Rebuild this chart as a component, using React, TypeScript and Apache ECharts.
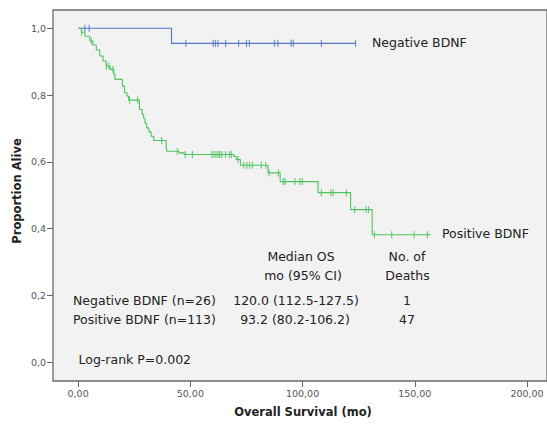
import React, { useEffect, useRef } from 'react';
import * as echarts from 'echarts';

// Axis ticks
const xTicks = [0, 50, 100, 150, 200];
const yTicks = [0, 0.2, 0.4, 0.6, 0.8, 1.0];

// Negative BDNF (blue): step drop times and survival after the drop
const negTimes = [0, 41.6];
const negSurv = [1.0, 0.955];
const negEnd = 123.6;
const negCensor = [3.0, 4.9, 48.0, 60.2, 61.2, 62.3, 65.7, 71.5, 75.0, 76.3, 87.5, 89.0, 94.9, 95.9, 108.4, 123.6];

// Positive BDNF (green)
const posTimes = [0, 1.5, 3.0, 5.2, 6.6, 8.1, 9.6, 11.1, 12.5, 14.2, 15.9, 16.4, 19.7, 20.7, 21.8, 22.5, 27.3, 28.5, 29.2, 29.8, 30.5, 31.5, 32.5, 33.7, 39.2, 39.5, 45.0, 47.2, 69.3, 70.4, 72.3, 84.6, 90.0, 106.9, 121.4, 131.0];
const posSurv = [1.0, 0.988, 0.976, 0.962, 0.95, 0.935, 0.917, 0.902, 0.887, 0.877, 0.862, 0.847, 0.827, 0.807, 0.797, 0.785, 0.757, 0.742, 0.73, 0.715, 0.702, 0.69, 0.677, 0.664, 0.647, 0.632, 0.627, 0.622, 0.616, 0.607, 0.59, 0.567, 0.541, 0.508, 0.457, 0.382];
const posEnd = 157.1;
const posCensor = [1.5, 5.9, 12.6, 13.7, 15.5, 22.9, 26.5, 37.2, 44.2, 47.7, 50.9, 59.6, 60.5, 61.4, 62.3, 63.1, 64.0, 65.7, 67.4, 68.3, 71.2, 73.8, 75.2, 76.4, 77.7, 81.6, 83.6, 85.1, 89.2, 91.4, 92.2, 96.6, 98.8, 99.9, 108.4, 112.6, 113.6, 119.5, 123.2, 128.3, 129.4, 132.0, 139.7, 149.7, 155.6];

// Annotation table
const groupLabels = ['Negative BDNF', 'Positive BDNF'];
const rowLabels = ['Negative BDNF (n=26)', 'Positive BDNF (n=113)'];
const medianOS = ['120.0 (112.5-127.5)', '93.2 (80.2-106.2)'];
const deaths = ['1', '47'];
const headerMedian = ['Median OS', 'mo (95% CI)'];
const headerDeaths = ['No. of', 'Deaths'];
const logRank = 'Log-rank P=0.002';

const BLUE = '#5573c6';
const GREEN = '#4cc45f';
const FONT = '"DejaVu Sans", sans-serif';

function survAt(times: number[], surv: number[], t: number): number {
  let s = surv[0];
  for (let i = 0; i < times.length; i++) {
    if (times[i] <= t) s = surv[i];
  }
  return s;
}

function stepData(times: number[], surv: number[], end: number) {
  const d = times.map((t, i) => [t, surv[i]]);
  d.push([end, surv[surv.length - 1]]);
  return d;
}

export default function App() {
  const ref = useRef<HTMLDivElement>(null);
  useEffect(() => {
    if (!ref.current) return;
    const chart = echarts.init(ref.current, undefined, { renderer: 'svg' });
    const txt = (text: string, x: number, y: number, align: string, extra: any = {}) => ({
      type: 'text',
      x,
      y,
      style: {
        text,
        font: `12.5px ${FONT}`,
        fill: '#222',
        align,
        verticalAlign: 'middle',
        textAlign: align,
        textVerticalAlign: 'middle',
        ...extra,
      },
    });
    const graphics: any[] = [
      txt(groupLabels[0], 372, 42, 'left'),
      txt(groupLabels[1], 442, 233.5, 'left'),
      txt(headerMedian[0], 301, 256, 'center'),
      txt(headerMedian[1], 303, 275.5, 'center'),
      txt(headerDeaths[0], 407, 256, 'center'),
      txt(headerDeaths[1], 407.5, 275.5, 'center'),
      txt(rowLabels[0], 73, 300.5, 'left'),
      txt(rowLabels[1], 73, 319.5, 'left'),
      txt(medianOS[0], 296, 300.5, 'center'),
      txt(medianOS[1], 295, 319.5, 'center'),
      txt(deaths[0], 407, 300.5, 'center'),
      txt(deaths[1], 407, 319.5, 'center'),
      txt(logRank, 78.5, 359, 'left'),
      {
        type: 'text',
        x: 303,
        y: 412,
        style: {
          text: 'Overall Survival (mo)',
          font: `bold 11.5px ${FONT}`,
          fill: '#222',
          align: 'center',
          verticalAlign: 'middle',
          textAlign: 'center',
          textVerticalAlign: 'middle',
        },
      },
      {
        type: 'text',
        x: 17,
        y: 191,
        rotation: Math.PI / 2,
        style: {
          text: 'Proportion Alive',
          font: `bold 11.5px ${FONT}`,
          fill: '#222',
          align: 'center',
          verticalAlign: 'middle',
          textAlign: 'center',
          textVerticalAlign: 'middle',
        },
      },
    ];

    chart.setOption({
      animation: false,
      backgroundColor: '#ffffff',
      grid: {
        show: true,
        left: 53,
        top: 10,
        right: -3,
        bottom: 45,
        backgroundColor: '#f2f2f2',
        borderColor: '#6b6b6b',
        borderWidth: 1.3,
      },
      xAxis: {
        type: 'value',
        min: -11.2,
        max: 208.9,
        splitLine: { show: false },
        axisLine: { show: false, onZero: false },
        axisTick: { show: true, inside: false, length: 6, lineStyle: { color: '#666' }, customValues: xTicks },
        axisLabel: {
          customValues: xTicks,
          margin: 7,
          color: '#555',
          fontSize: 9.5,
          fontFamily: FONT,
          formatter: (v: number) => v.toFixed(2).replace('.', ','),
        },
      },
      yAxis: {
        type: 'value',
        min: -0.056,
        max: 1.0548,
        splitLine: { show: false },
        axisLine: { show: false, onZero: false },
        axisTick: { show: true, inside: false, length: 6, lineStyle: { color: '#666' }, customValues: yTicks },
        axisLabel: {
          customValues: yTicks,
          margin: 7,
          color: '#555',
          fontSize: 9.5,
          fontFamily: FONT,
          formatter: (v: number) => v.toFixed(1).replace('.', ','),
        },
      },
      graphic: graphics,
      series: [
        {
          type: 'line',
          step: 'end',
          data: stepData(negTimes, negSurv, negEnd),
          showSymbol: false,
          symbol: 'none',
          lineStyle: { color: BLUE, width: 1.1 },
          silent: true,
        },
        {
          type: 'line',
          step: 'end',
          data: stepData(posTimes, posSurv, posEnd),
          showSymbol: false,
          symbol: 'none',
          lineStyle: { color: GREEN, width: 1.1 },
          silent: true,
        },
        {
          type: 'scatter',
          data: negCensor.map((t) => [t, survAt(negTimes, negSurv, t)]),
          symbol: 'rect',
          symbolSize: [1.2, 7],
          itemStyle: { color: BLUE },
          silent: true,
        },
        {
          type: 'scatter',
          data: posCensor.map((t) => [t, survAt(posTimes, posSurv, t)]),
          symbol: 'rect',
          symbolSize: [1.2, 7],
          itemStyle: { color: GREEN },
          silent: true,
        },
      ],
    });
    return () => chart.dispose();
  }, []);
  return (
    <div
      ref={ref}
      style={{ position: 'absolute', left: 0, top: 0, width: 547, height: 426 }}
    />
  );
}
